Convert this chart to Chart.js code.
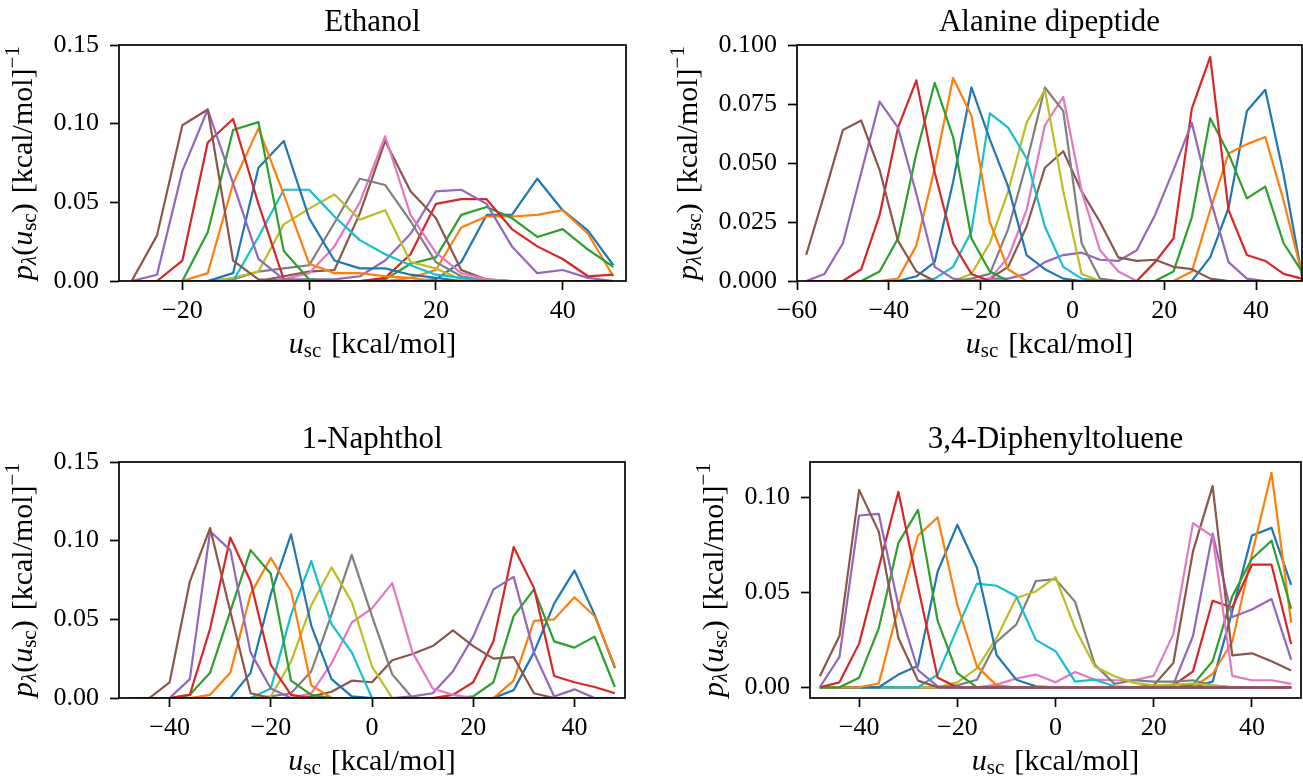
<!DOCTYPE html>
<html>
<head>
<meta charset="utf-8">
<script src="https://cdn.jsdelivr.net/npm/chart.js@4.4.1/dist/chart.umd.min.js"></script>
<style>
  html, body { margin: 0; padding: 0; background: #fff; }
  #fig { position: relative; width: 1303px; height: 777px; }
  #fig canvas { position: absolute; left: 0; top: 0; }
</style>
</head>
<body>
<div id="fig">
  <canvas id="c1" width="1303" height="777"></canvas>
  <canvas id="c2" width="1303" height="777"></canvas>
  <canvas id="c3" width="1303" height="777"></canvas>
  <canvas id="c4" width="1303" height="777"></canvas>
</div>
<script>
// ---- Ethanol: u_sc grid and p(u_sc) per lambda window ----
const ethanolU = [-28, -24, -20, -16, -12, -8, -4, 0, 4, 8, 12, 16, 20, 24, 28, 32, 36, 40, 44, 48];
const eth01 = [0, 0, 0, 0, 0, 0, 0, 0, 0, 0, 0, 0, 0.001, 0.012, 0.042, 0.042, 0.065, 0.045, 0.032, 0.010];
const eth02 = [0, 0, 0, 0, 0, 0, 0, 0, 0, 0, 0, 0.002, 0.007, 0.034, 0.041, 0.041, 0.042, 0.045, 0.030, 0.003];
const eth03 = [0, 0, 0, 0, 0, 0, 0, 0, 0, 0, 0.001, 0.011, 0.015, 0.042, 0.047, 0.040, 0.028, 0.033, 0.020, 0.009];
const eth04 = [0, 0, 0, 0, 0, 0, 0, 0, 0, 0, 0.002, 0.017, 0.049, 0.052, 0.052, 0.033, 0.022, 0.014, 0.003, 0.004];
const eth05 = [0, 0, 0, 0, 0, 0, 0.001, 0.001, 0.001, 0.003, 0.013, 0.030, 0.057, 0.058, 0.049, 0.022, 0.005, 0.007, 0.002, 0];
const eth06 = [0, 0, 0, 0, 0, 0, 0.003, 0.006, 0.007, 0.043, 0.089, 0.057, 0.040, 0.007, 0.001, 0, 0, 0, 0, 0];
const eth07 = [0, 0, 0, 0, 0, 0, 0.001, 0.005, 0.022, 0.050, 0.092, 0.042, 0.018, 0.005, 0.001, 0, 0, 0, 0, 0];
const eth08 = [0, 0, 0, 0, 0.001, 0.006, 0.008, 0.010, 0.037, 0.065, 0.061, 0.038, 0.012, 0.003, 0, 0, 0, 0, 0, 0];
const eth09 = [0, 0, 0, 0, 0.002, 0.006, 0.036, 0.046, 0.055, 0.039, 0.045, 0.012, 0.008, 0.001, 0, 0, 0, 0, 0, 0];
const eth10 = [0, 0, 0, 0, 0, 0.028, 0.058, 0.058, 0.041, 0.026, 0.017, 0.010, 0.004, 0.002, 0, 0, 0, 0, 0, 0];
const eth11 = [0, 0, 0, 0, 0.005, 0.072, 0.089, 0.040, 0.013, 0.008, 0.008, 0.004, 0.002, 0, 0, 0, 0, 0, 0, 0];
const eth12 = [0, 0, 0, 0.005, 0.062, 0.097, 0.055, 0.011, 0.005, 0.005, 0.003, 0.002, 0, 0, 0, 0, 0, 0, 0, 0];
const eth13 = [0, 0, 0, 0.031, 0.096, 0.101, 0.019, 0.001, 0, 0, 0, 0, 0, 0, 0, 0, 0, 0, 0, 0];
const eth14 = [0, 0, 0.013, 0.088, 0.103, 0.049, 0.001, 0, 0, 0, 0, 0, 0, 0, 0, 0, 0, 0, 0, 0];
const eth15 = [0, 0.004, 0.070, 0.109, 0.062, 0.014, 0.001, 0, 0, 0, 0, 0, 0, 0, 0, 0, 0, 0, 0, 0];
const eth16 = [0, 0.029, 0.099, 0.109, 0.013, 0.001, 0, 0, 0, 0, 0, 0, 0, 0, 0, 0, 0, 0, 0, 0];
const ethanolXTicks = [-20, 0, 20, 40];
const ethanolYTicks = [0, 0.05, 0.10, 0.15];

// ---- Alanine dipeptide ----
const alanineU = [-58, -54, -50, -46, -42, -38, -34, -30, -26, -22, -18, -14, -10, -6, -2, 2, 6, 10, 14, 18, 22, 26, 30, 34, 38, 42, 46, 50];
const ala01 = [0, 0, 0, 0, 0, 0, 0, 0, 0, 0, 0, 0, 0, 0, 0, 0, 0, 0, 0, 0, 0, 0, 0.010, 0.031, 0.072, 0.081, 0.045, 0.002];
const ala02 = [0, 0, 0, 0, 0, 0, 0, 0, 0, 0, 0, 0, 0, 0, 0, 0, 0, 0, 0, 0, 0, 0.004, 0.030, 0.054, 0.058, 0.061, 0.034, 0.003];
const ala03 = [0, 0, 0, 0, 0, 0, 0, 0, 0, 0, 0, 0, 0, 0, 0, 0, 0, 0, 0, 0, 0.004, 0.027, 0.069, 0.054, 0.035, 0.040, 0.016, 0.004];
const ala04 = [0, 0, 0, 0, 0, 0, 0, 0, 0, 0, 0, 0, 0, 0, 0, 0, 0, 0, 0, 0.008, 0.018, 0.073, 0.095, 0.030, 0.011, 0.0085, 0.003, 0.001];
const ala05 = [0, 0, 0, 0, 0, 0, 0, 0, 0, 0, 0.001, 0.001, 0.003, 0.008, 0.011, 0.012, 0.009, 0.0085, 0.013, 0.028, 0.047, 0.067, 0.035, 0.008, 0.001, 0, 0, 0];
const ala06 = [0, 0, 0, 0, 0, 0, 0, 0, 0, 0, 0.001, 0.006, 0.023, 0.048, 0.055, 0.038, 0.025, 0.010, 0.0085, 0.009, 0.006, 0.005, 0.001, 0, 0, 0, 0, 0];
const ala07 = [0, 0, 0, 0, 0, 0, 0, 0, 0, 0, 0.001, 0.010, 0.030, 0.066, 0.078, 0.038, 0.013, 0.004, 0, 0, 0, 0, 0, 0, 0, 0, 0, 0];
const ala08 = [0, 0, 0, 0, 0, 0, 0, 0, 0, 0.001, 0.003, 0.022, 0.050, 0.082, 0.072, 0.016, 0.001, 0, 0, 0, 0, 0, 0, 0, 0, 0, 0, 0];
const ala09 = [0, 0, 0, 0, 0, 0, 0, 0, 0, 0.003, 0.016, 0.038, 0.067, 0.081, 0.038, 0.003, 0, 0, 0, 0, 0, 0, 0, 0, 0, 0, 0, 0];
const ala10 = [0, 0, 0, 0, 0, 0, 0, 0.001, 0.006, 0.021, 0.071, 0.065, 0.052, 0.023, 0.006, 0.001, 0, 0, 0, 0, 0, 0, 0, 0, 0, 0, 0, 0];
const ala11 = [0, 0, 0, 0, 0, 0, 0.002, 0.008, 0.042, 0.082, 0.060, 0.040, 0.011, 0.005, 0.001, 0, 0, 0, 0, 0, 0, 0, 0, 0, 0, 0, 0, 0];
const ala12 = [0, 0, 0, 0, 0, 0.001, 0.015, 0.048, 0.086, 0.070, 0.025, 0.005, 0, 0, 0, 0, 0, 0, 0, 0, 0, 0, 0, 0, 0, 0, 0, 0];
const ala13 = [0, 0, 0, 0, 0.004, 0.018, 0.054, 0.084, 0.061, 0.018, 0.004, 0, 0, 0, 0, 0, 0, 0, 0, 0, 0, 0, 0, 0, 0, 0, 0, 0];
const ala14 = [0, 0, 0, 0.005, 0.028, 0.065, 0.085, 0.046, 0.016, 0.003, 0, 0, 0, 0, 0, 0, 0, 0, 0, 0, 0, 0, 0, 0, 0, 0, 0, 0];
const ala15 = [0, 0.003, 0.016, 0.046, 0.076, 0.065, 0.037, 0.006, 0.001, 0, 0, 0, 0, 0, 0, 0, 0, 0, 0, 0, 0, 0, 0, 0, 0, 0, 0, 0];
const ala16 = [0.011, 0.037, 0.064, 0.068, 0.047, 0.017, 0.004, 0, 0, 0, 0, 0, 0, 0, 0, 0, 0, 0, 0, 0, 0, 0, 0, 0, 0, 0, 0, 0];
const alanineXTicks = [-60, -40, -20, 0, 20, 40];
const alanineYTicks = [0, 0.025, 0.05, 0.075, 0.10];

// ---- 1-Naphthol ----
const naphtholU = [-48, -44, -40, -36, -32, -28, -24, -20, -16, -12, -8, -4, 0, 4, 8, 12, 16, 20, 24, 28, 32, 36, 40, 44, 48];
const nap01 = [0, 0, 0, 0, 0, 0, 0, 0, 0, 0, 0, 0, 0, 0, 0, 0, 0, 0, 0, 0.005, 0.029, 0.060, 0.081, 0.053, 0.019];
const nap02 = [0, 0, 0, 0, 0, 0, 0, 0, 0, 0, 0, 0, 0, 0, 0, 0, 0, 0, 0, 0.011, 0.049, 0.050, 0.064, 0.052, 0.020];
const nap03 = [0, 0, 0, 0, 0, 0, 0, 0, 0, 0, 0, 0, 0, 0, 0, 0, 0, 0.001, 0.010, 0.052, 0.069, 0.036, 0.032, 0.039, 0.007];
const nap04 = [0, 0, 0, 0, 0, 0, 0, 0, 0, 0, 0, 0, 0, 0, 0, 0, 0.002, 0.010, 0.036, 0.096, 0.070, 0.014, 0.010, 0.007, 0.003];
const nap05 = [0, 0, 0, 0, 0, 0, 0, 0, 0, 0, 0, 0, 0, 0, 0.001, 0.003, 0.017, 0.039, 0.069, 0.077, 0.029, 0.001, 0.0055, 0, 0];
const nap06 = [0, 0, 0, 0, 0, 0, 0, 0, 0, 0.001, 0.004, 0.011, 0.010, 0.024, 0.028, 0.033, 0.043, 0.033, 0.025, 0.026, 0.003, 0, 0, 0, 0];
const nap07 = [0, 0, 0, 0, 0, 0, 0, 0, 0, 0.003, 0.022, 0.048, 0.057, 0.073, 0.029, 0.006, 0.002, 0, 0, 0, 0, 0, 0, 0, 0];
const nap08 = [0, 0, 0, 0, 0, 0, 0, 0.001, 0.003, 0.017, 0.053, 0.091, 0.052, 0.015, 0, 0, 0, 0, 0, 0, 0, 0, 0, 0, 0];
const nap09 = [0, 0, 0, 0, 0, 0, 0, 0.001, 0.023, 0.059, 0.083, 0.061, 0.020, 0, 0, 0, 0, 0, 0, 0, 0, 0, 0, 0, 0];
const nap10 = [0, 0, 0, 0, 0, 0, 0, 0.006, 0.053, 0.087, 0.047, 0.029, 0, 0, 0, 0, 0, 0, 0, 0, 0, 0, 0, 0, 0];
const nap11 = [0, 0, 0, 0, 0, 0, 0.016, 0.066, 0.104, 0.046, 0.012, 0.001, 0, 0, 0, 0, 0, 0, 0, 0, 0, 0, 0, 0, 0];
const nap12 = [0, 0, 0, 0, 0.002, 0.016, 0.066, 0.089, 0.068, 0.008, 0, 0, 0, 0, 0, 0, 0, 0, 0, 0, 0, 0, 0, 0, 0];
const nap13 = [0, 0, 0, 0.002, 0.016, 0.055, 0.094, 0.079, 0.011, 0.002, 0, 0, 0, 0, 0, 0, 0, 0, 0, 0, 0, 0, 0, 0, 0];
const nap14 = [0, 0, 0, 0.002, 0.044, 0.102, 0.074, 0.021, 0.002, 0, 0, 0, 0, 0, 0, 0, 0, 0, 0, 0, 0, 0, 0, 0, 0];
const nap15 = [0, 0, 0, 0.012, 0.106, 0.094, 0.029, 0.006, 0, 0, 0, 0, 0, 0, 0, 0, 0, 0, 0, 0, 0, 0, 0, 0, 0];
const nap16 = [0, 0, 0.010, 0.074, 0.108, 0.055, 0.003, 0, 0, 0, 0, 0, 0, 0, 0, 0, 0, 0, 0, 0, 0, 0, 0, 0, 0];
const naphtholXTicks = [-40, -20, 0, 20, 40];
const naphtholYTicks = [0, 0.05, 0.10, 0.15];

// ---- 3,4-Diphenyltoluene ----
const diphenylU = [-48, -44, -40, -36, -32, -28, -24, -20, -16, -12, -8, -4, 0, 4, 8, 12, 16, 20, 24, 28, 32, 36, 40, 44, 48];
const dip01 = [0, 0, 0, 0, 0, 0, 0, 0, 0, 0, 0, 0, 0, 0, 0, 0, 0, 0, 0, 0, 0.003, 0.040, 0.080, 0.084, 0.054];
const dip02 = [0, 0, 0, 0, 0, 0, 0, 0, 0, 0, 0, 0, 0, 0, 0, 0, 0, 0, 0, 0, 0.007, 0.024, 0.070, 0.113, 0.034];
const dip03 = [0, 0, 0, 0, 0, 0, 0, 0, 0, 0, 0, 0, 0, 0, 0, 0, 0, 0, 0, 0.0014, 0.0137, 0.048, 0.0677, 0.0772, 0.0414];
const dip04 = [0, 0, 0, 0, 0, 0, 0, 0, 0, 0, 0, 0, 0, 0, 0, 0, 0, 0, 0.001, 0.0084, 0.0456, 0.042, 0.0646, 0.0646, 0.0228];
const dip05 = [0, 0, 0, 0, 0, 0, 0, 0, 0, 0, 0, 0, 0, 0, 0, 0, 0, 0, 0.0014, 0.027, 0.081, 0.037, 0.041, 0.0465, 0.0146];
const dip06 = [0, 0, 0, 0, 0, 0, 0, 0, 0, 0, 0, 0, 0, 0, 0, 0, 0, 0.001, 0.0128, 0.0716, 0.106, 0.0168, 0.0179, 0.0137, 0.0088];
const dip07 = [0, 0, 0, 0, 0, 0, 0, 0, 0, 0.0014, 0.0046, 0.0067, 0.0026, 0.008, 0.004, 0.0037, 0.0037, 0.006, 0.028, 0.0865, 0.0795, 0.006, 0.0037, 0.0037, 0.0018];
const dip08 = [0, 0, 0, 0, 0, 0, 0, 0.001, 0.004, 0.024, 0.033, 0.056, 0.057, 0.045, 0.012, 0.0018, 0.0037, 0.003, 0.003, 0.0037, 0.001, 0, 0, 0, 0];
const dip09 = [0, 0, 0, 0, 0, 0, 0, 0.0026, 0.010, 0.026, 0.047, 0.0505, 0.058, 0.031, 0.011, 0.0058, 0.0023, 0.001, 0.0014, 0.002, 0.001, 0, 0, 0, 0];
const dip10 = [0, 0, 0, 0, 0, 0, 0.0067, 0.031, 0.0546, 0.0535, 0.048, 0.025, 0.019, 0.003, 0.004, 0.0005, 0, 0, 0, 0, 0, 0, 0, 0, 0];
const dip11 = [0, 0, 0, 0, 0.0067, 0.0114, 0.061, 0.0856, 0.063, 0.017, 0.004, 0.0005, 0, 0, 0, 0, 0, 0, 0, 0, 0, 0, 0, 0, 0];
const dip12 = [0, 0, 0, 0.002, 0.042, 0.080, 0.0895, 0.0435, 0.011, 0.001, 0, 0, 0, 0, 0, 0, 0, 0, 0, 0, 0, 0, 0, 0, 0];
const dip13 = [0, 0, 0.005, 0.031, 0.076, 0.0935, 0.035, 0.0075, 0, 0, 0, 0, 0, 0, 0, 0, 0, 0, 0, 0, 0, 0, 0, 0, 0];
const dip14 = [0, 0.0026, 0.023, 0.063, 0.103, 0.053, 0.005, 0, 0, 0, 0, 0, 0, 0, 0, 0, 0, 0, 0, 0, 0, 0, 0, 0, 0];
const dip15 = [0, 0.016, 0.0905, 0.0914, 0.043, 0.009, 0.0005, 0, 0, 0, 0, 0, 0, 0, 0, 0, 0, 0, 0, 0, 0, 0, 0, 0, 0];
const dip16 = [0.0058, 0.027, 0.104, 0.082, 0.026, 0.0035, 0, 0, 0, 0, 0, 0, 0, 0, 0, 0, 0, 0, 0, 0, 0, 0, 0, 0, 0];
const diphenylXTicks = [-40, -20, 0, 20, 40];
const diphenylYTicks = [0, 0.05, 0.10];

// matplotlib tab10 cycle
const tab10 = ['#1f77b4', '#ff7f0e', '#2ca02c', '#d62728', '#9467bd',
               '#8c564b', '#e377c2', '#7f7f7f', '#bcbd22', '#17becf'];

const SERIF = '"Liberation Serif", "Times New Roman", serif';
const W = 1303, H = 777;
const LABEL_SIZE = 30;

const xLabel = [{t: 'u', it: true}, {t: 'sc', sub: true}, {t: ' \u200a[kcal/mol]'}];
const yLabel = [{t: 'p', it: true}, {t: 'λ', it: true, sub: true}, {t: '('}, {t: 'u', it: true},
                {t: 'sc', sub: true}, {t: ')'}, {t: ' \u200a[kcal/mol]'}, {t: '−1', sup: true}];

// draw a label made of roman / italic / sub / sup pieces, centred on x
function drawRich(ctx, parts, x, y, size) {
  const fontOf = p => (p.it ? 'italic ' : '') + ((p.sub || p.sup) ? size * 0.7 : size) + 'px ' + SERIF;
  const widths = parts.map(p => { ctx.font = fontOf(p); return ctx.measureText(p.t).width; });
  let cx = x - widths.reduce((a, b) => a + b, 0) / 2;
  ctx.textAlign = 'left';
  ctx.textBaseline = 'alphabetic';
  parts.forEach((p, i) => {
    ctx.font = fontOf(p);
    const dy = p.sub ? size * 0.12 : (p.sup ? -size * 0.42 : 0);
    ctx.fillText(p.t, cx, y + dy);
    cx += widths[i];
  });
}

// box round the axes, title and the two axis labels
const framePlugin = {
  id: 'frame',
  afterDraw(chart, args, opts) {
    const ctx = chart.ctx, a = chart.chartArea;
    ctx.save();
    ctx.strokeStyle = '#000';
    ctx.lineWidth = 1.7;
    ctx.strokeRect(a.left, a.top, a.right - a.left, a.bottom - a.top);
    ctx.fillStyle = '#000';
    ctx.font = '31px ' + SERIF;
    ctx.textAlign = 'center';
    ctx.textBaseline = 'alphabetic';
    ctx.fillText(opts.title, (a.left + a.right) / 2, a.top - 14);
    drawRich(ctx, xLabel, (a.left + a.right) / 2, a.bottom + 72, LABEL_SIZE);
    ctx.translate(opts.ylabelX, (a.top + a.bottom) / 2);
    ctx.rotate(-Math.PI / 2);
    drawRich(ctx, yLabel, 0, 0, LABEL_SIZE);
    ctx.restore();
  }
};

function fmtX(v) {
  return v < 0 ? '\u2212' + Math.abs(v) : String(v);
}

function makePanel(cfg) {
  const [left, top, right, bottom] = cfg.box;
  const datasets = cfg.series.map((ys, i) => ({
    data: cfg.u.map((x, k) => ({x: x, y: ys[k]})),
    borderColor: tab10[i % 10],
    backgroundColor: tab10[i % 10],
    borderWidth: 2.2,
    pointRadius: 0,
    tension: 0,
    fill: false,
    borderJoinStyle: 'round',
    order: 16 - i
  }));
  const tickGrid = {
    display: true, drawOnChartArea: false, drawTicks: true,
    tickLength: 9, tickWidth: 1.7, tickColor: '#000', color: '#000'
  };
  new Chart(document.getElementById(cfg.id), {
    type: 'line',
    data: {datasets: datasets},
    plugins: [framePlugin],
    options: {
      responsive: false,
      animation: false,
      devicePixelRatio: 1,
      layout: {padding: {left: 0, top: top, right: W - right, bottom: 0}},
      plugins: {
        legend: {display: false},
        tooltip: {enabled: false},
        frame: {title: cfg.title, ylabelX: cfg.ylabelX}
      },
      scales: {
        x: {
          type: 'linear', position: 'bottom',
          min: cfg.xMin, max: cfg.xMax,
          afterFit: s => { s.height = H - bottom; },
          afterBuildTicks: s => { s.ticks = cfg.xTicks.map(v => ({value: v})); },
          grid: tickGrid,
          border: {display: false},
          ticks: {
            color: '#000', font: {family: SERIF, size: 26}, padding: 6,
            maxRotation: 0, autoSkip: false, callback: v => fmtX(v)
          }
        },
        y: {
          type: 'linear', position: 'left',
          min: cfg.yMin, max: cfg.yMax,
          afterFit: s => { s.width = left; },
          afterBuildTicks: s => { s.ticks = cfg.yTicks.map(v => ({value: v})); },
          grid: tickGrid,
          border: {display: false},
          ticks: {
            color: '#000', font: {family: SERIF, size: 26}, padding: 11,
            autoSkip: false, callback: v => v.toFixed(cfg.yDigits)
          }
        }
      }
    }
  });
}

makePanel({
  id: 'c1', title: 'Ethanol', u: ethanolU,
  series: [eth01, eth02, eth03, eth04, eth05, eth06, eth07, eth08, eth09, eth10, eth11, eth12, eth13, eth14, eth15, eth16],
  xMin: -30, xMax: 50, yMin: 0, yMax: 0.15, xTicks: ethanolXTicks, yTicks: ethanolYTicks, yDigits: 2,
  box: [119, 45, 626, 281], ylabelX: 32
});
makePanel({
  id: 'c2', title: 'Alanine dipeptide', u: alanineU,
  series: [ala01, ala02, ala03, ala04, ala05, ala06, ala07, ala08, ala09, ala10, ala11, ala12, ala13, ala14, ala15, ala16],
  xMin: -60, xMax: 50, yMin: 0, yMax: 0.10, xTicks: alanineXTicks, yTicks: alanineYTicks, yDigits: 3,
  box: [797, 45, 1302, 281], ylabelX: 697
});
makePanel({
  id: 'c3', title: '1-Naphthol', u: naphtholU,
  series: [nap01, nap02, nap03, nap04, nap05, nap06, nap07, nap08, nap09, nap10, nap11, nap12, nap13, nap14, nap15, nap16],
  xMin: -50, xMax: 50, yMin: 0, yMax: 0.15, xTicks: naphtholXTicks, yTicks: naphtholYTicks, yDigits: 2,
  box: [119, 462, 625, 698], ylabelX: 32
});
makePanel({
  id: 'c4', title: '3,4-Diphenyltoluene', u: diphenylU,
  series: [dip01, dip02, dip03, dip04, dip05, dip06, dip07, dip08, dip09, dip10, dip11, dip12, dip13, dip14, dip15, dip16],
  xMin: -50, xMax: 50, yMin: -0.00565, yMax: 0.1187, xTicks: diphenylXTicks, yTicks: diphenylYTicks, yDigits: 2,
  box: [810, 462, 1301, 698], ylabelX: 723
});
</script>
</body>
</html>
